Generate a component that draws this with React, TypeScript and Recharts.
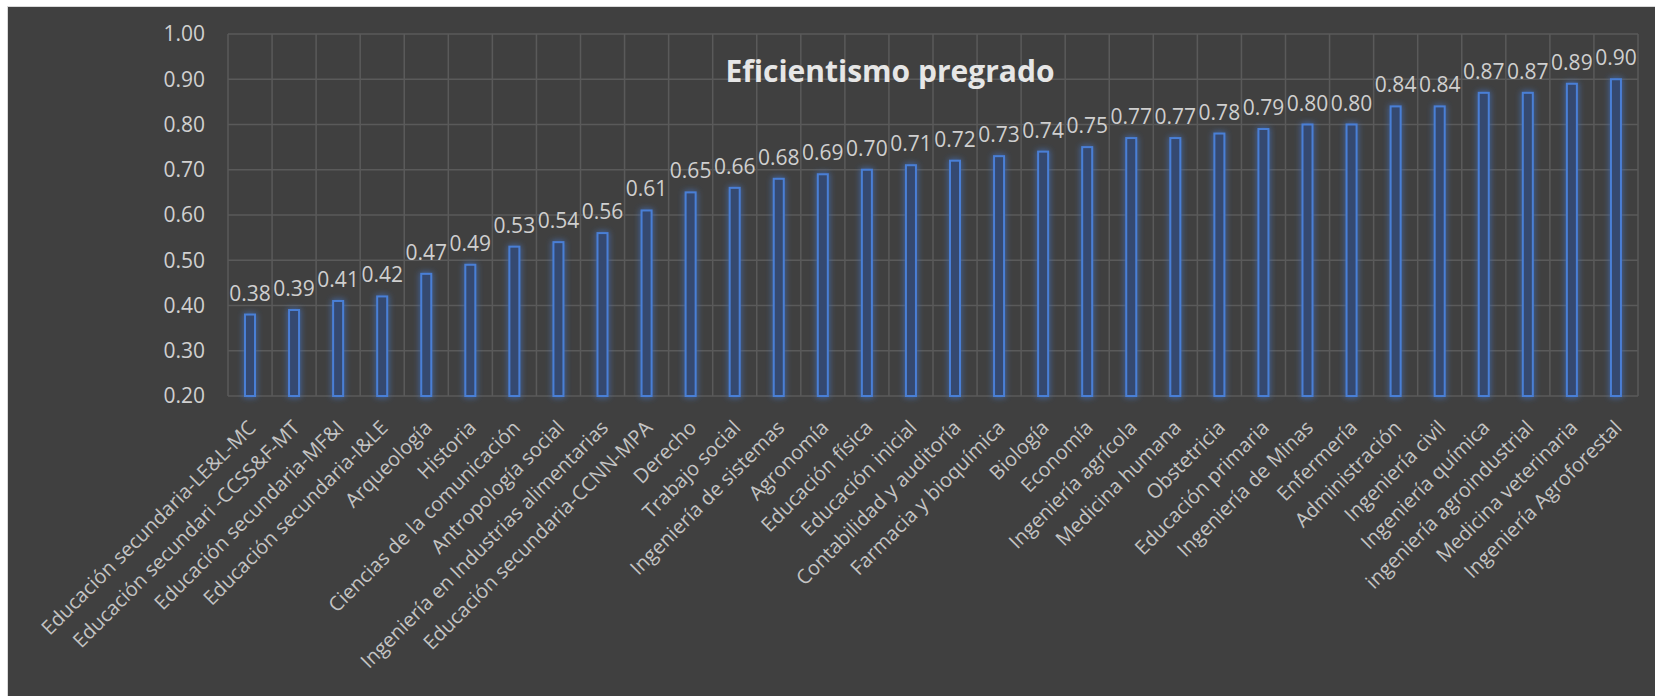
import React from 'react';
import { BarChart, Bar, XAxis, YAxis, CartesianGrid, LabelList } from 'recharts';

const categories = [
  'Educación secundaria-LE&L-MC',
  'Educación secundari -CCSS&F-MT',
  'Educación secundaria-MF&I',
  'Educación secundaria-I&LE',
  'Arqueología',
  'Historia',
  'Ciencias de la comunicación',
  'Antropología social',
  'Ingeniería en Industrias alimentarias',
  'Educación secundaria-CCNN-MPA',
  'Derecho',
  'Trabajo social',
  'Ingeniería de sistemas',
  'Agronomía',
  'Educación física',
  'Educación inicial',
  'Contabilidad y auditoría',
  'Farmacia y bioquímica',
  'Biología',
  'Economía',
  'Ingeniería agrícola',
  'Medicina humana',
  'Obstetricia',
  'Educación primaria',
  'Ingeniería de Minas',
  'Enfermería',
  'Administración',
  'Ingeniería civil',
  'Ingeniería química',
  'ingeniería agroindustrial',
  'Medicina veterinaria',
  'Ingeniería Agroforestal',
];

const values = [
  0.38, 0.39, 0.41, 0.42, 0.47, 0.49, 0.53, 0.54, 0.56, 0.61, 0.65, 0.66, 0.68, 0.69, 0.7, 0.71,
  0.72, 0.73, 0.74, 0.75, 0.77, 0.77, 0.78, 0.79, 0.8, 0.8, 0.84, 0.84, 0.87, 0.87, 0.89, 0.9,
];

const yTicks = [0.2, 0.3, 0.4, 0.5, 0.6, 0.7, 0.8, 0.9, 1.0];

const data = categories.map((name, i) => ({ name, value: values[i] }));

const FONT = '"Open Sans", sans-serif';

// rotated category label, like Excel's -45deg labels
const CategoryTick = ({ x, y, payload }: any) => (
  <text
    x={x + 7}
    y={y + 25}
    transform={`rotate(-45, ${x + 7}, ${y + 25})`}
    textAnchor="end"
    fill="#c4c4c4"
    fontSize={20}
    fontFamily={FONT}
  >
    {payload.value}
  </text>
);

// outlined bar with a soft blue glow
const GlowBar = ({ x, y, width, height }: any) => (
  <rect
    x={x + 1}
    y={y}
    width={width - 2}
    height={height}
    fill="#35496f"
    stroke="#4a7fd6"
    strokeWidth={2}
    filter="url(#barGlow)"
  />
);

// vertical gridlines sit on category boundaries, not centres
const boundaryLines = ({ offset }: any) =>
  Array.from({ length: categories.length + 1 }, (_, i) => offset.left + (i * offset.width) / categories.length);

export default function App() {
  return (
    <div style={{ position: 'absolute', left: 0, top: 0, width: 1655, height: 696, background: '#ffffff' }}>
      <div
        style={{
          position: 'absolute',
          left: 7,
          top: 6,
          width: 1648,
          height: 690,
          background: '#404040',
          borderTop: '1px solid #d9d9d9',
          borderLeft: '1px solid #d9d9d9',
          boxSizing: 'border-box',
        }}
      >
        <BarChart
          width={1647}
          height={689}
          data={data}
          margin={{ top: 27, right: 17, left: 0, bottom: 0 }}
          barCategoryGap={16}
        >
          <defs>
            <filter id="barGlow" x="-80%" y="-10%" width="260%" height="120%">
              <feGaussianBlur in="SourceGraphic" stdDeviation="3" result="blur" />
              <feMerge>
                <feMergeNode in="blur" />
                <feMergeNode in="SourceGraphic" />
              </feMerge>
            </filter>
          </defs>
          <CartesianGrid
            stroke="#5a5a5a"
            strokeWidth={1.5}
            verticalCoordinatesGenerator={boundaryLines}
          />
          <XAxis
            dataKey="name"
            interval={0}
            height={300}
            axisLine={false}
            tickLine={false}
            tick={<CategoryTick />}
          />
          <YAxis
            type="number"
            domain={[0.2, 1]}
            ticks={yTicks}
            width={220}
            axisLine={false}
            tickLine={false}
            tickMargin={17}
            tickFormatter={(v: number) => v.toFixed(2)}
            tick={{ fill: '#d0d0d0', fontSize: 21, fontFamily: FONT }}
          />
          <Bar dataKey="value" barSize={12} shape={<GlowBar />} isAnimationActive={false}>
            <LabelList
              dataKey="value"
              position="top"
              offset={14}
              fill="#cfcfcf"
              fontSize={21}
              fontFamily={FONT}
              formatter={(v: any) => Number(v).toFixed(2)}
            />
          </Bar>
        </BarChart>
        <div
          style={{
            position: 'absolute',
            left: 889 - 7 - 300,
            top: 48 - 6,
            width: 600,
            textAlign: 'center',
            color: '#e6e6e6',
            fontFamily: FONT,
            fontWeight: 700,
            fontSize: 30,
            lineHeight: '44px',
          }}
        >
          Eficientismo pregrado
        </div>
      </div>
    </div>
  );
}
